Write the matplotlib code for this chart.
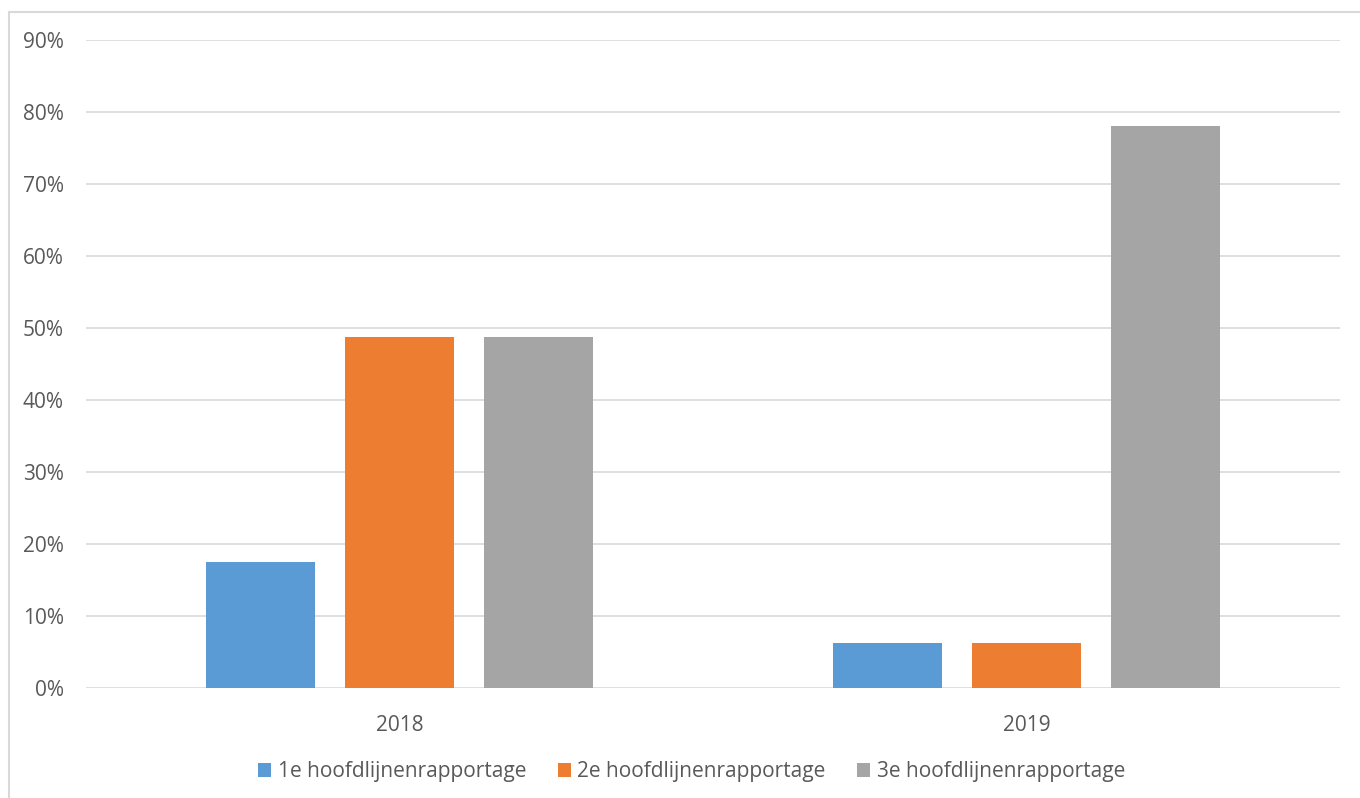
import numpy as np
from matplotlib import pyplot as plt
from matplotlib.patches import Rectangle
from matplotlib.ticker import PercentFormatter

years = ['2018', '2019']
series = ['1e hoofdlijnenrapportage', '2e hoofdlijnenrapportage', '3e hoofdlijnenrapportage']
rapportage_1 = [17.4, 6.2]
rapportage_2 = [48.7, 6.2]
rapportage_3 = [48.7, 78.1]
colorlst = ['#5B9BD5', '#ED7D31', '#A5A5A5']

plt.rcParams['font.family'] = ['Open Sans', 'DejaVu Sans']
font_size = 15
text_color = '#595959'

fig = plt.figure(figsize=(13.6, 7.98), dpi=100)
ax = fig.add_axes([86 / 1360, 1 - 687.5 / 798, 1254 / 1360, 647.5 / 798])

x = np.arange(len(years))
width = 0.1754
step = 0.2217
for i, (vals, color, name) in enumerate(zip([rapportage_1, rapportage_2, rapportage_3], colorlst, series)):
    ax.bar(x + (i - 1) * step, np.array(vals) / 100, width=width, color=color, label=name, zorder=3)

ax.set_xlim(-0.5, 1.5)
ax.set_ylim(0, 0.9)
ax.set_yticks(np.arange(0, 0.91, 0.1))
ax.yaxis.set_major_formatter(PercentFormatter(1.0, decimals=0))
ax.set_xticks(x)
ax.set_xticklabels(years)
ax.grid(axis='y', color='#d9d9d9', linewidth=1.2, zorder=0)
for s in ['top', 'right', 'left', 'bottom']:
    ax.spines[s].set_visible(False)
ax.tick_params(axis='y', length=0, pad=16, labelsize=font_size, labelcolor=text_color)
ax.tick_params(axis='x', length=0, pad=20, labelsize=font_size, labelcolor=text_color)

leg = ax.legend(loc='center', bbox_to_anchor=(0.483, -0.13), ncol=3, frameon=False,
                fontsize=font_size, handlelength=0.62, handleheight=0.62,
                handletextpad=0.33, columnspacing=1.5, labelcolor=text_color)

# outer chart frame
fig.patches.append(Rectangle((9 / 1360, -0.1), 1.2, 1 - 12 / 798 + 0.1, transform=fig.transFigure,
                             fill=False, edgecolor='#d9d9d9', linewidth=1.5, zorder=0))

plt.savefig('out.png', dpi=100)
plt.close()
